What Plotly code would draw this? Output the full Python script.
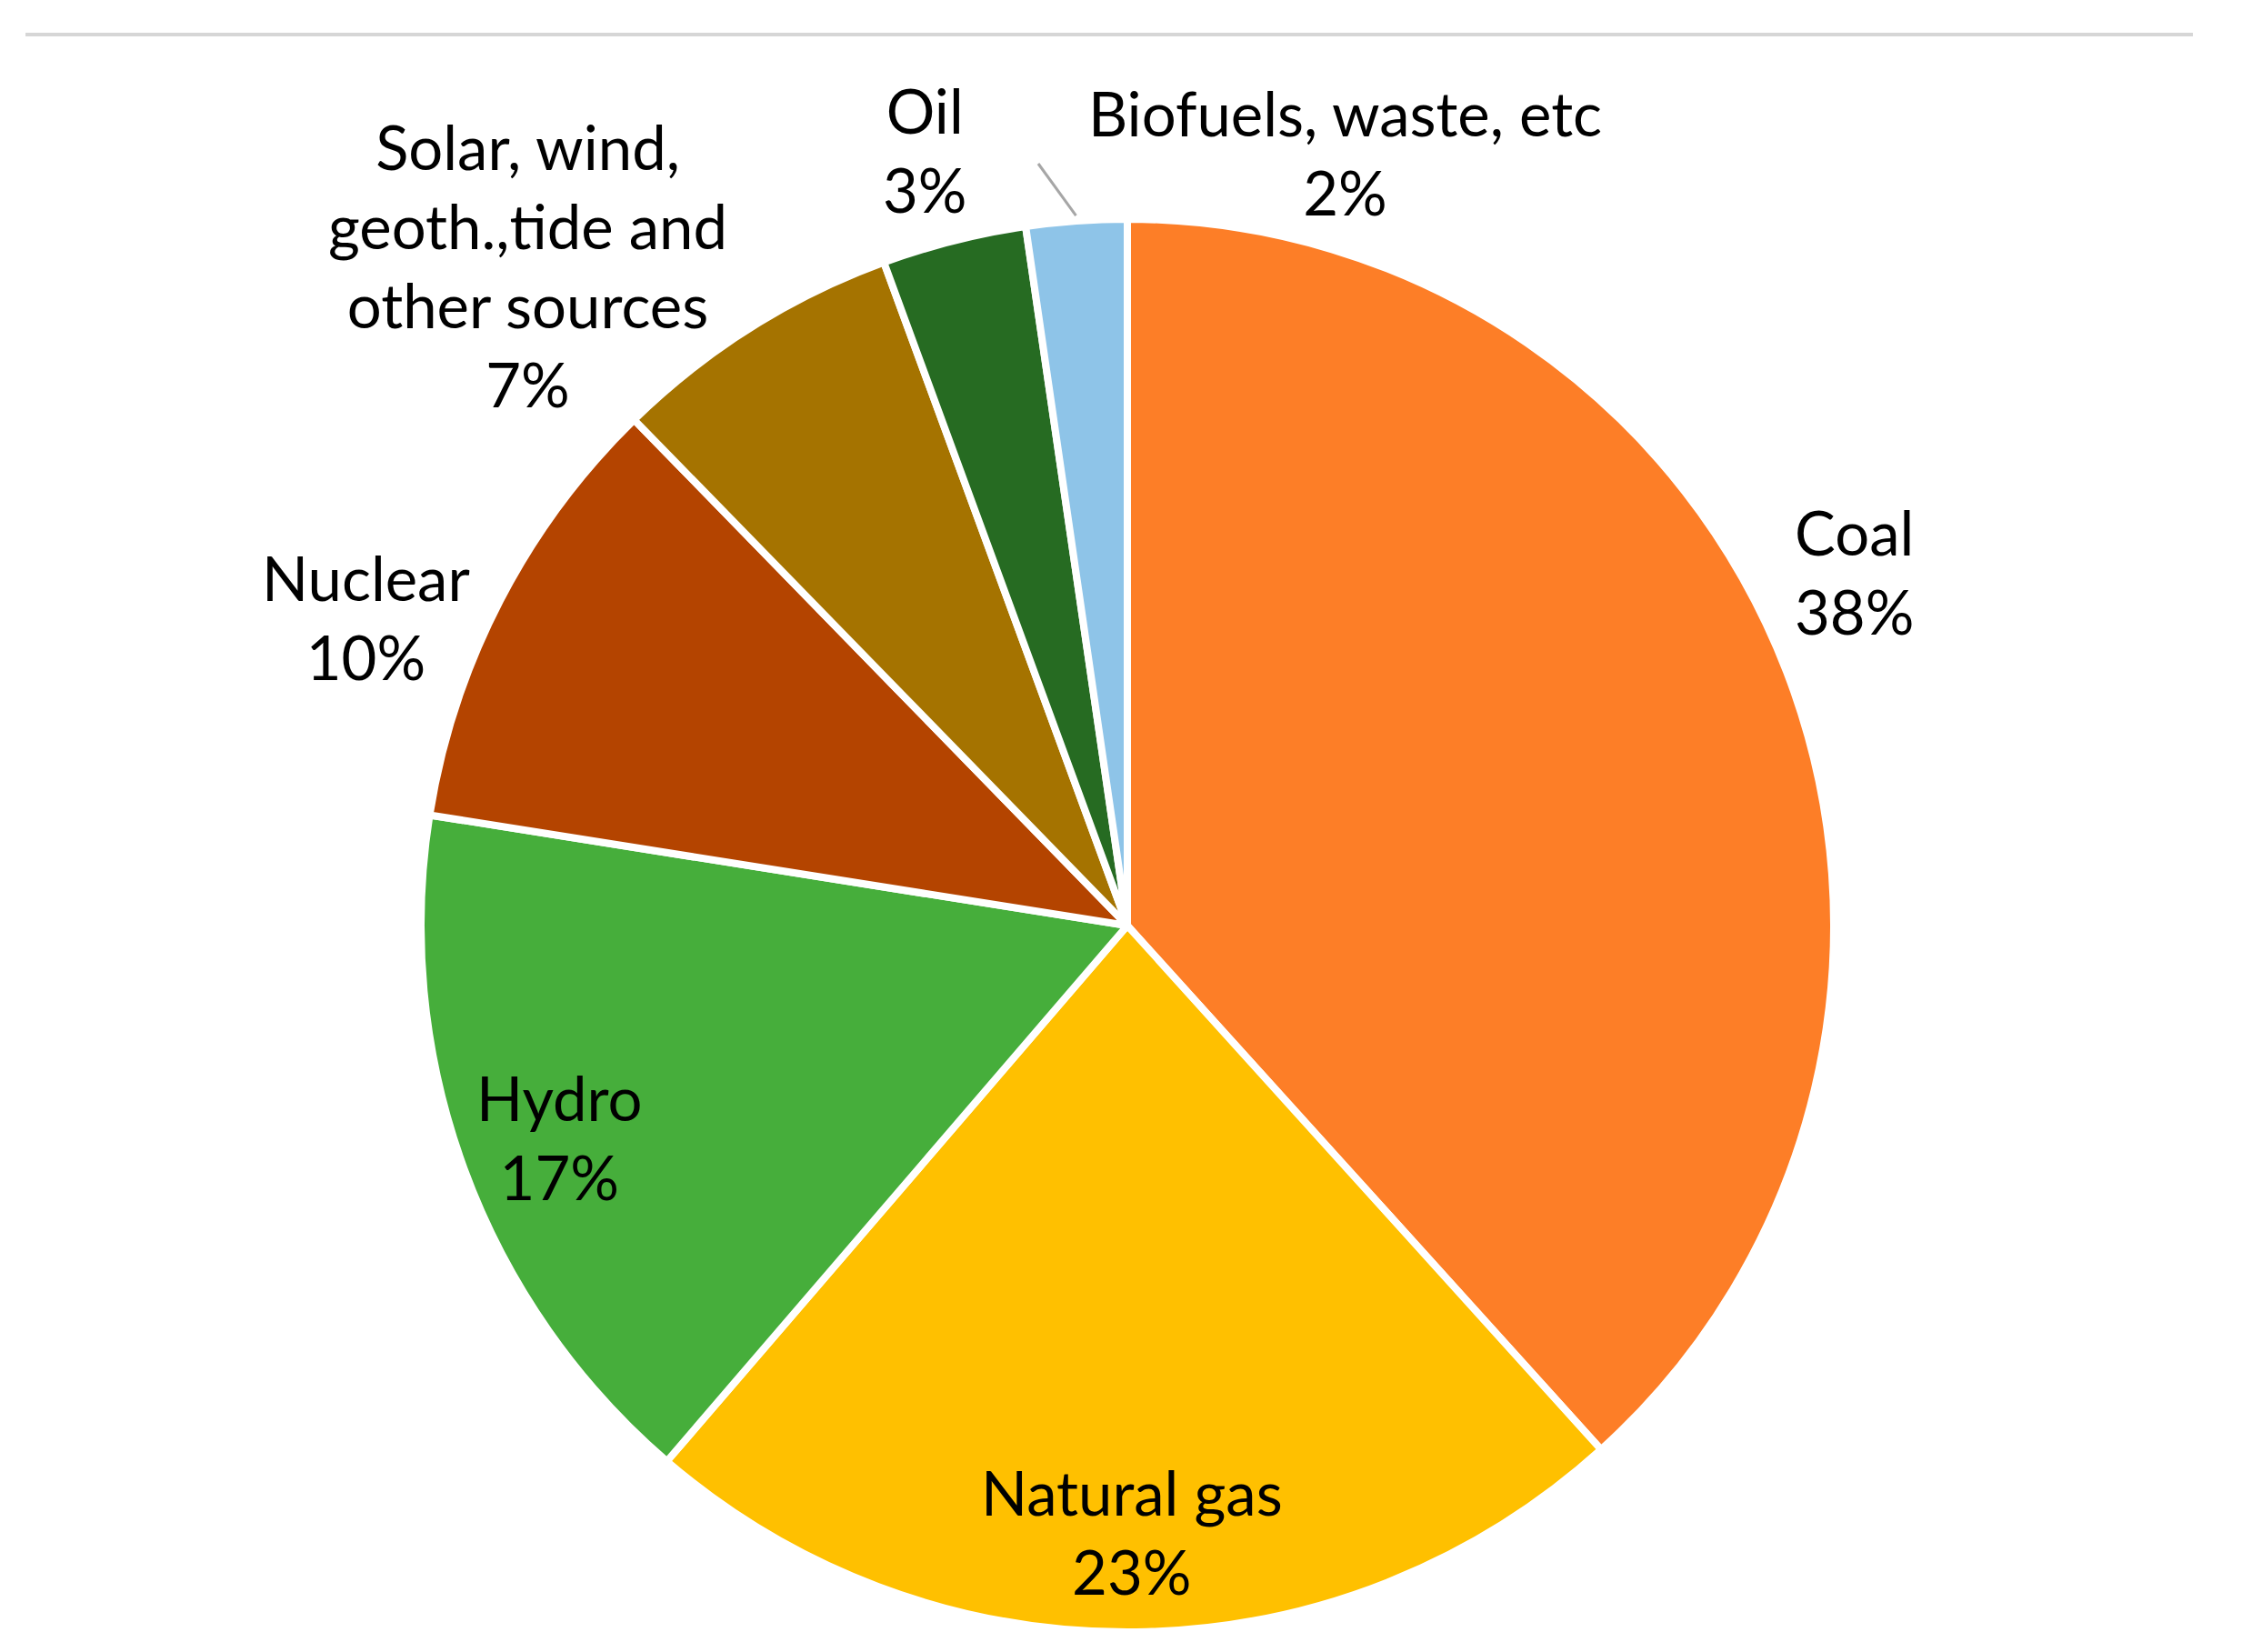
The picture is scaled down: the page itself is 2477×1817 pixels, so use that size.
import math
import plotly.graph_objects as go

W, H = 2477, 1817

sources = ["Coal", "Natural gas", "Hydro", "Nuclear",
           "Solar, wind, geoth.,tide and other sources", "Oil", "Biofuels, waste, etc"]
shares = [38.3, 23.0, 16.2, 10.2, 6.7, 3.3, 2.3]
share_text = ["38%", "23%", "17%", "10%", "7%", "3%", "2%"]
label_text = ["Coal", "Natural gas", "Hydro", "Nuclear",
              "Solar, wind,<br>geoth.,tide and<br>other sources", "Oil", "Biofuels, waste, etc"]
colors = ["#FD7E27", "#FFC000", "#46AE3B", "#B44400", "#A57300", "#266B22", "#8EC4E8"]

# layout, in pixels of the page (the page body adds ~8px margin, so shift back)
OFF = 8
CX, CY, R = 1240 - OFF, 1018 - OFF, 777
LABEL_XY = {
    "Coal": (2039, 628),
    "Natural gas": (1245, 1684),
    "Hydro": (615, 1250),
    "Nuclear": (402, 678),
    "Solar, wind, geoth.,tide and other sources": (580, 291),
    "Oil": (1017, 164),
    "Biofuels, waste, etc": (1479, 168),
}


def px(x, y):
    return (x - OFF) / W, 1 - (y - OFF) / H


fig = go.Figure()
fig.add_trace(go.Pie(
    labels=sources, values=shares, sort=False, direction="clockwise", rotation=0,
    marker=dict(colors=colors, line=dict(color="white", width=8)),
    textinfo="none", hoverinfo="skip",
    domain=dict(x=[(CX - R) / W, (CX + R) / W], y=[1 - (CY + R) / H, 1 - (CY - R) / H]),
))

for src, lab, pct in zip(sources, label_text, share_text):
    x, y = px(*LABEL_XY[src])
    fig.add_annotation(x=x, y=y, xref="paper", yref="paper", text=f"{lab}<br>{pct}",
                       showarrow=False, xanchor="center", yanchor="middle", align="center",
                       font=dict(family="Lato", size=67, color="#000000"))

# leader line for the small biofuels slice, ending just outside the middle of its arc
start = sum(shares[:-1]) / sum(shares)
mid = (start + 1) / 2 * 2 * math.pi
ex = CX + OFF + (R + 6) * math.sin(mid)
ey = CY + OFF - (R + 6) * math.cos(mid)
x0, y0 = px(1142, 180)
x1, y1 = px(ex, ey)
fig.add_shape(type="line", xref="paper", yref="paper", x0=x0, y0=y0, x1=x1, y1=y1,
              line=dict(color="#a6a6a6", width=3))

# thin rule at the top
fig.add_shape(type="line", xref="paper", yref="paper", x0=px(28, 0)[0], x1=px(2412, 0)[0],
              y0=px(0, 38)[1], y1=px(0, 38)[1], line=dict(color="#d6d6d6", width=4))

fig.update_layout(width=W, height=H, margin=dict(l=0, r=0, t=0, b=0),
                  paper_bgcolor="white", plot_bgcolor="white", showlegend=False)
fig.write_html("out.html")
